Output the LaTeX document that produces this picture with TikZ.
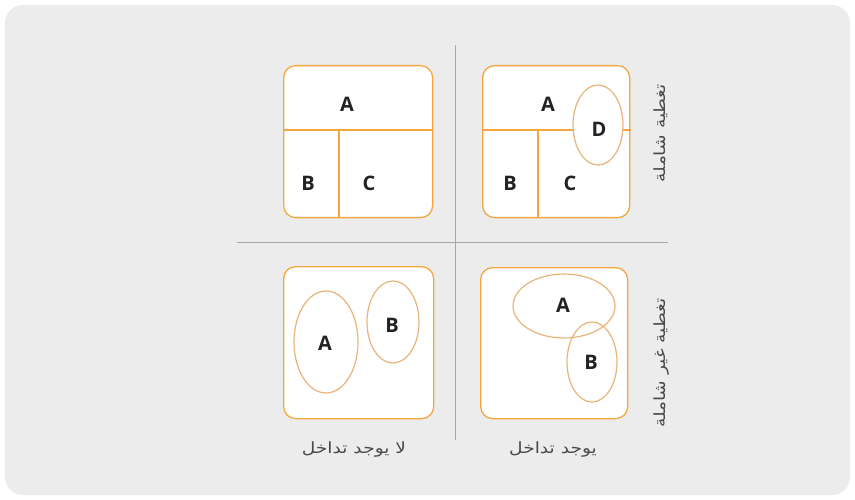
\documentclass[tikz,border=0pt]{standalone}
\usepackage{fontspec}
\usetikzlibrary{shapes.geometric}
\setmainfont{Open Sans}
\newfontfamily\arabicfont[Script=Arabic,FakeStretch=1.2]{DejaVu Sans}
\TeXXeTstate=1
\definecolor{bgc}{HTML}{ECECEC}
\definecolor{orng}{HTML}{F4A640}
\definecolor{ell}{HTML}{E9B47A}
\definecolor{divc}{HTML}{A8A8A8}
\definecolor{txt}{HTML}{222222}
\definecolor{lbl}{HTML}{4A4A4A}
\begin{document}
\begin{tikzpicture}[x=1pt,y=-1pt,
  panel/.style={draw=orng,line width=1.3pt,fill=white,rounded corners=12pt},
  part/.style={draw=orng,line width=1.1pt},
  setell/.style={draw=ell,line width=1.2pt,ellipse,inner sep=0pt},
  letter/.style={font=\fontsize{20}{20}\selectfont\bfseries,text=txt,inner sep=0pt},
  arlbl/.style={font=\arabicfont\fontsize{15.5}{16}\selectfont,text=lbl,inner sep=0pt},
  divider/.style={draw=divc,line width=0.8pt}]
\useasboundingbox (0,0) rectangle (855,500);
\fill[white] (0,0) rectangle (855,500);
\fill[bgc,rounded corners=18pt] (5,5) rectangle (850,495);
% dividers
\coordinate (vt) at (455,45);
\coordinate (vb) at (455,440);
\coordinate (hl) at (237,242);
\coordinate (hr) at (668,242);
\draw[divider] (vt) -- (vb);
\draw[divider] (hl) -- (hr);
% top-left panel
\node[panel,minimum width=149pt,minimum height=152pt,anchor=north west] (p1) at (283,65) {};
\coordinate (p1l) at (283,130);
\coordinate (p1r) at (432,130);
\coordinate (p1m) at (339,130);
\coordinate (p1b) at (339,217);
\draw[part] (p1l) -- (p1r);
\draw[part] (p1m) -- (p1b);
\node[letter] (a1) at (347,104) {A};
\node[letter] (b1) at (308,183) {B};
\node[letter] (c1) at (369,183) {C};
% top-right panel
\node[panel,minimum width=147pt,minimum height=152pt,anchor=north west] (p2) at (482,65) {};
\coordinate (p2l) at (482,130);
\coordinate (p2r) at (631,130);
\coordinate (p2m) at (538,130);
\coordinate (p2b) at (538,217);
\draw[part] (p2l) -- (p2r);
\draw[part] (p2m) -- (p2b);
\node[setell,fill=white,minimum width=50pt,minimum height=80pt] (d2) at (598,125) {};
\node[letter] (a2) at (548,104) {A};
\node[letter] (b2) at (510,183) {B};
\node[letter] (c2) at (570,183) {C};
\node[letter] (dd2) at (599,129) {D};
% bottom-left panel
\node[panel,minimum width=150pt,minimum height=152pt,anchor=north west] (p3) at (283,266) {};
\node[setell,minimum width=64pt,minimum height=102pt] (ea3) at (326,342) {};
\node[setell,minimum width=52pt,minimum height=82pt] (eb3) at (393,322) {};
\node[letter] (a3) at (325,343) {A};
\node[letter] (b3) at (392,325) {B};
% bottom-right panel
\node[panel,minimum width=147pt,minimum height=151pt,anchor=north west] (p4) at (480,267) {};
\node[setell,minimum width=102pt,minimum height=64pt] (ea4) at (564,306) {};
\node[setell,minimum width=50pt,minimum height=80pt] (eb4) at (592,362) {};
\node[letter] (a4) at (563,305) {A};
\node[letter] (b4) at (591,362) {B};
% side labels
\node[arlbl,rotate=90] (s1) at (661,133) {\beginR تغطية شاملة\endR};
\node[arlbl,rotate=90] (s2) at (661,363) {\beginR تغطية غير شاملة\endR};
% bottom labels
\node[arlbl] (t1) at (354,450) {\beginR لا يوجد تداخل\endR};
\node[arlbl] (t2) at (553,450) {\beginR يوجد تداخل\endR};
\end{tikzpicture}
\end{document}
